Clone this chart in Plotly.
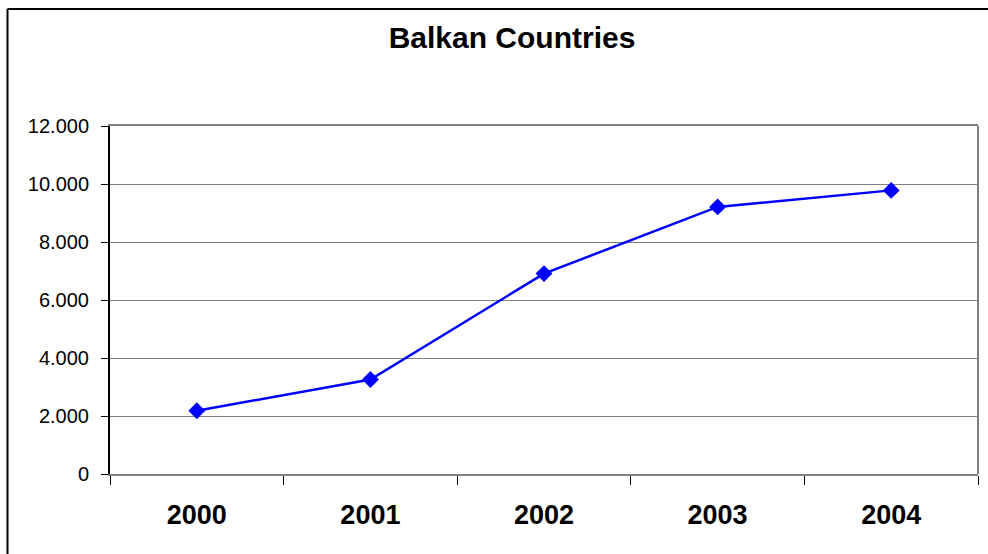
import plotly.graph_objects as go

years = ["2000", "2001", "2002", "2003", "2004"]
values = [2180, 3260, 6910, 9210, 9780]
y_ticks = [0, 2000, 4000, 6000, 8000, 10000, 12000]

W, H = 988, 554
L, R, T, B = 110, 10, 126, 80
pw, ph = W - L - R, H - T - B

def px_x(x):
    return (x - L) / pw

def px_y(y):
    return (H - B - y) / ph

fig = go.Figure()
fig.add_trace(go.Scatter(
    x=years, y=values, mode="lines+markers",
    line=dict(color="#0000FF", width=2.5),
    marker=dict(symbol="diamond", size=13, color="#0000FF"),
    showlegend=False,
))

fig.update_layout(
    width=W, height=H,
    margin=dict(l=L, r=R, t=T, b=B),
    paper_bgcolor="white", plot_bgcolor="white",
    separators=",.",
    font=dict(family="Liberation Sans, Arial, sans-serif", color="black"),
    title=dict(text="<b>Balkan Countries</b>", xref="container", x=512 / W,
               xanchor="center", yref="container", y=1 - 37 / H, yanchor="middle",
               font=dict(size=30, color="black")),
    xaxis=dict(
        type="category", range=[-0.5, 4.5], tickson="boundaries",
        ticks="outside", ticklen=9, tickcolor="black", tickwidth=1,
        showline=True, linecolor="#808080", linewidth=2, mirror=True,
        showgrid=False, tickfont=dict(size=27, color="black", weight="bold"),
        ticklabelstandoff=16, fixedrange=True,
    ),
    yaxis=dict(
        range=[0, 12000], tickvals=y_ticks, tickformat=",d",
        ticks="outside", ticklen=7, tickcolor="black", tickwidth=1,
        showline=True, linecolor="black", linewidth=2,
        showgrid=True, gridcolor="#808080", gridwidth=1, zeroline=False,
        tickfont=dict(size=20, color="black"), ticklabelstandoff=8,
        fixedrange=True,
    ),
    shapes=[
        dict(type="line", xref="paper", yref="paper", x0=1, x1=1, y0=0, y1=1,
             line=dict(color="#808080", width=2)),
        dict(type="line", xref="paper", yref="paper",
             x0=px_x(7.5), x1=px_x(1000), y0=px_y(9), y1=px_y(9),
             line=dict(color="black", width=2)),
        dict(type="line", xref="paper", yref="paper",
             x0=px_x(7.5), x1=px_x(7.5), y0=px_y(9), y1=px_y(600),
             line=dict(color="black", width=2)),
    ],
)

fig.write_html("out.html", config={"displayModeBar": False})
